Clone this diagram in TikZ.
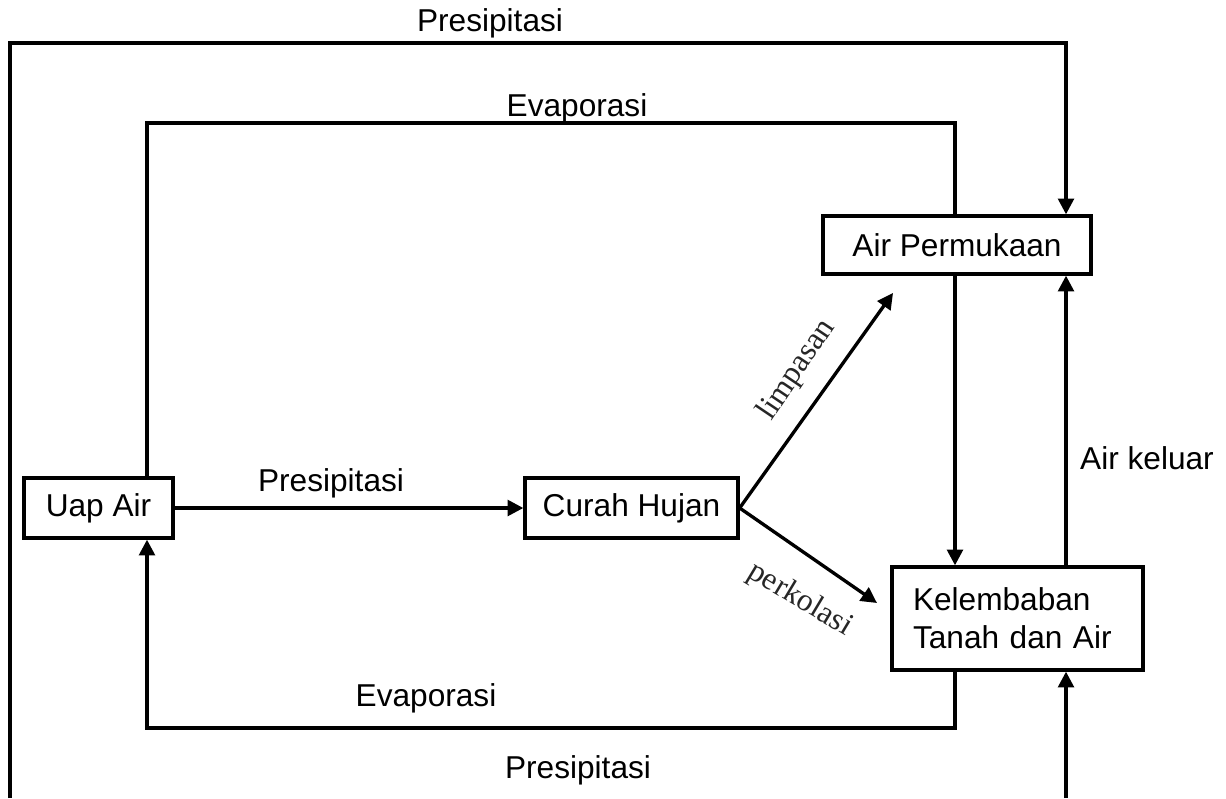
\documentclass[tikz,border=0pt]{standalone}
\usepackage{fontspec}
\setmainfont{Liberation Sans}
\newfontfamily\serifku{Liberation Serif}
\usepackage{tikz}
\usetikzlibrary{arrows.meta,positioning,calc}

\tikzset{
  garis/.style={line width=1.9pt},
  panah/.style={garis, -{Triangle[width=9pt,length=9pt]}},
  kotak/.style={draw, line width=1.9pt, minimum height=1.2cm, inner sep=0pt},
  miring/.style={font=\serifku\fontsize{18}{20}\selectfont, text=black!85}
}

\begin{document}
\begin{tikzpicture}[x=0.02cm, y=-0.02cm, font=\fontsize{18}{21.5}\selectfont]
  \useasboundingbox (0,0) rectangle (1226,798);

  % Blok
  \node[kotak, minimum width=2.98cm] (uap) at (98.5,508) {Uap Air};
  \node[kotak, minimum width=4.26cm] (hujan) at (631.5,508) {Curah Hujan};
  \node[kotak, minimum width=5.36cm, minimum height=1.16cm] (perm) at (957,245) {Air Permukaan};
  \node[kotak, minimum width=5.02cm, minimum height=2.06cm, text width=4.18cm,
        inner xsep=0.42cm, align=left] (kel) at (1017.5,618.5)
        {Kelembaban\\Tanah dan Air};

  % Titik bantu
  \coordinate (luarBawah) at (10,798);
  \coordinate (luarKiri) at (10,43);
  \coordinate (luarKanan) at (1066,43);
  \coordinate (evapKiri) at (147,123);
  \coordinate (evapKanan) at (955,123);
  \coordinate (evapBawah) at (955,728);
  \coordinate (evapSudut) at (147,728);
  \coordinate (presBawah) at (1066,798);
  \coordinate (ujungLimpasan) at (893,293);
  \coordinate (ujungPerkolasi) at (877,603);

  % Presipitasi luar
  \draw[panah] (luarBawah) -- (luarKiri) -- (luarKanan) -- (perm.north -| luarKanan);
  \node at (490,23) {Presipitasi};

  % Evaporasi atas
  \draw[garis] (uap.north -| evapKiri) -- (evapKiri) -- (evapKanan) -- (perm.north -| evapKanan);
  \node at (577,108) {Evaporasi};

  % Uap air ke curah hujan
  \draw[panah] (uap.east) -- (hujan.west);
  \node at (331,483) {Presipitasi};

  % Limpasan dan perkolasi
  \draw[panah] (hujan.east) -- (ujungLimpasan);
  \draw[panah] (hujan.east) -- (ujungPerkolasi);
  \node[miring, rotate=56] at (797,370) {limpasan};
  \node[miring, rotate=-31] at (800,600) {perkolasi};

  % Antara air permukaan dan kelembaban
  \draw[panah] (perm.south -| evapKanan) -- (kel.north -| evapKanan);
  \draw[panah] (kel.north -| luarKanan) -- (perm.south -| luarKanan);
  \node at (1147,458) {Air keluar};

  % Evaporasi bawah
  \draw[panah] (kel.south -| evapBawah) -- (evapBawah) -- (evapSudut) -- (uap.south -| evapSudut);
  \node at (426,698) {Evaporasi};

  % Presipitasi bawah
  \draw[panah] (presBawah) -- (kel.south -| presBawah);
  \node at (578,770) {Presipitasi};
\end{tikzpicture}
\end{document}
